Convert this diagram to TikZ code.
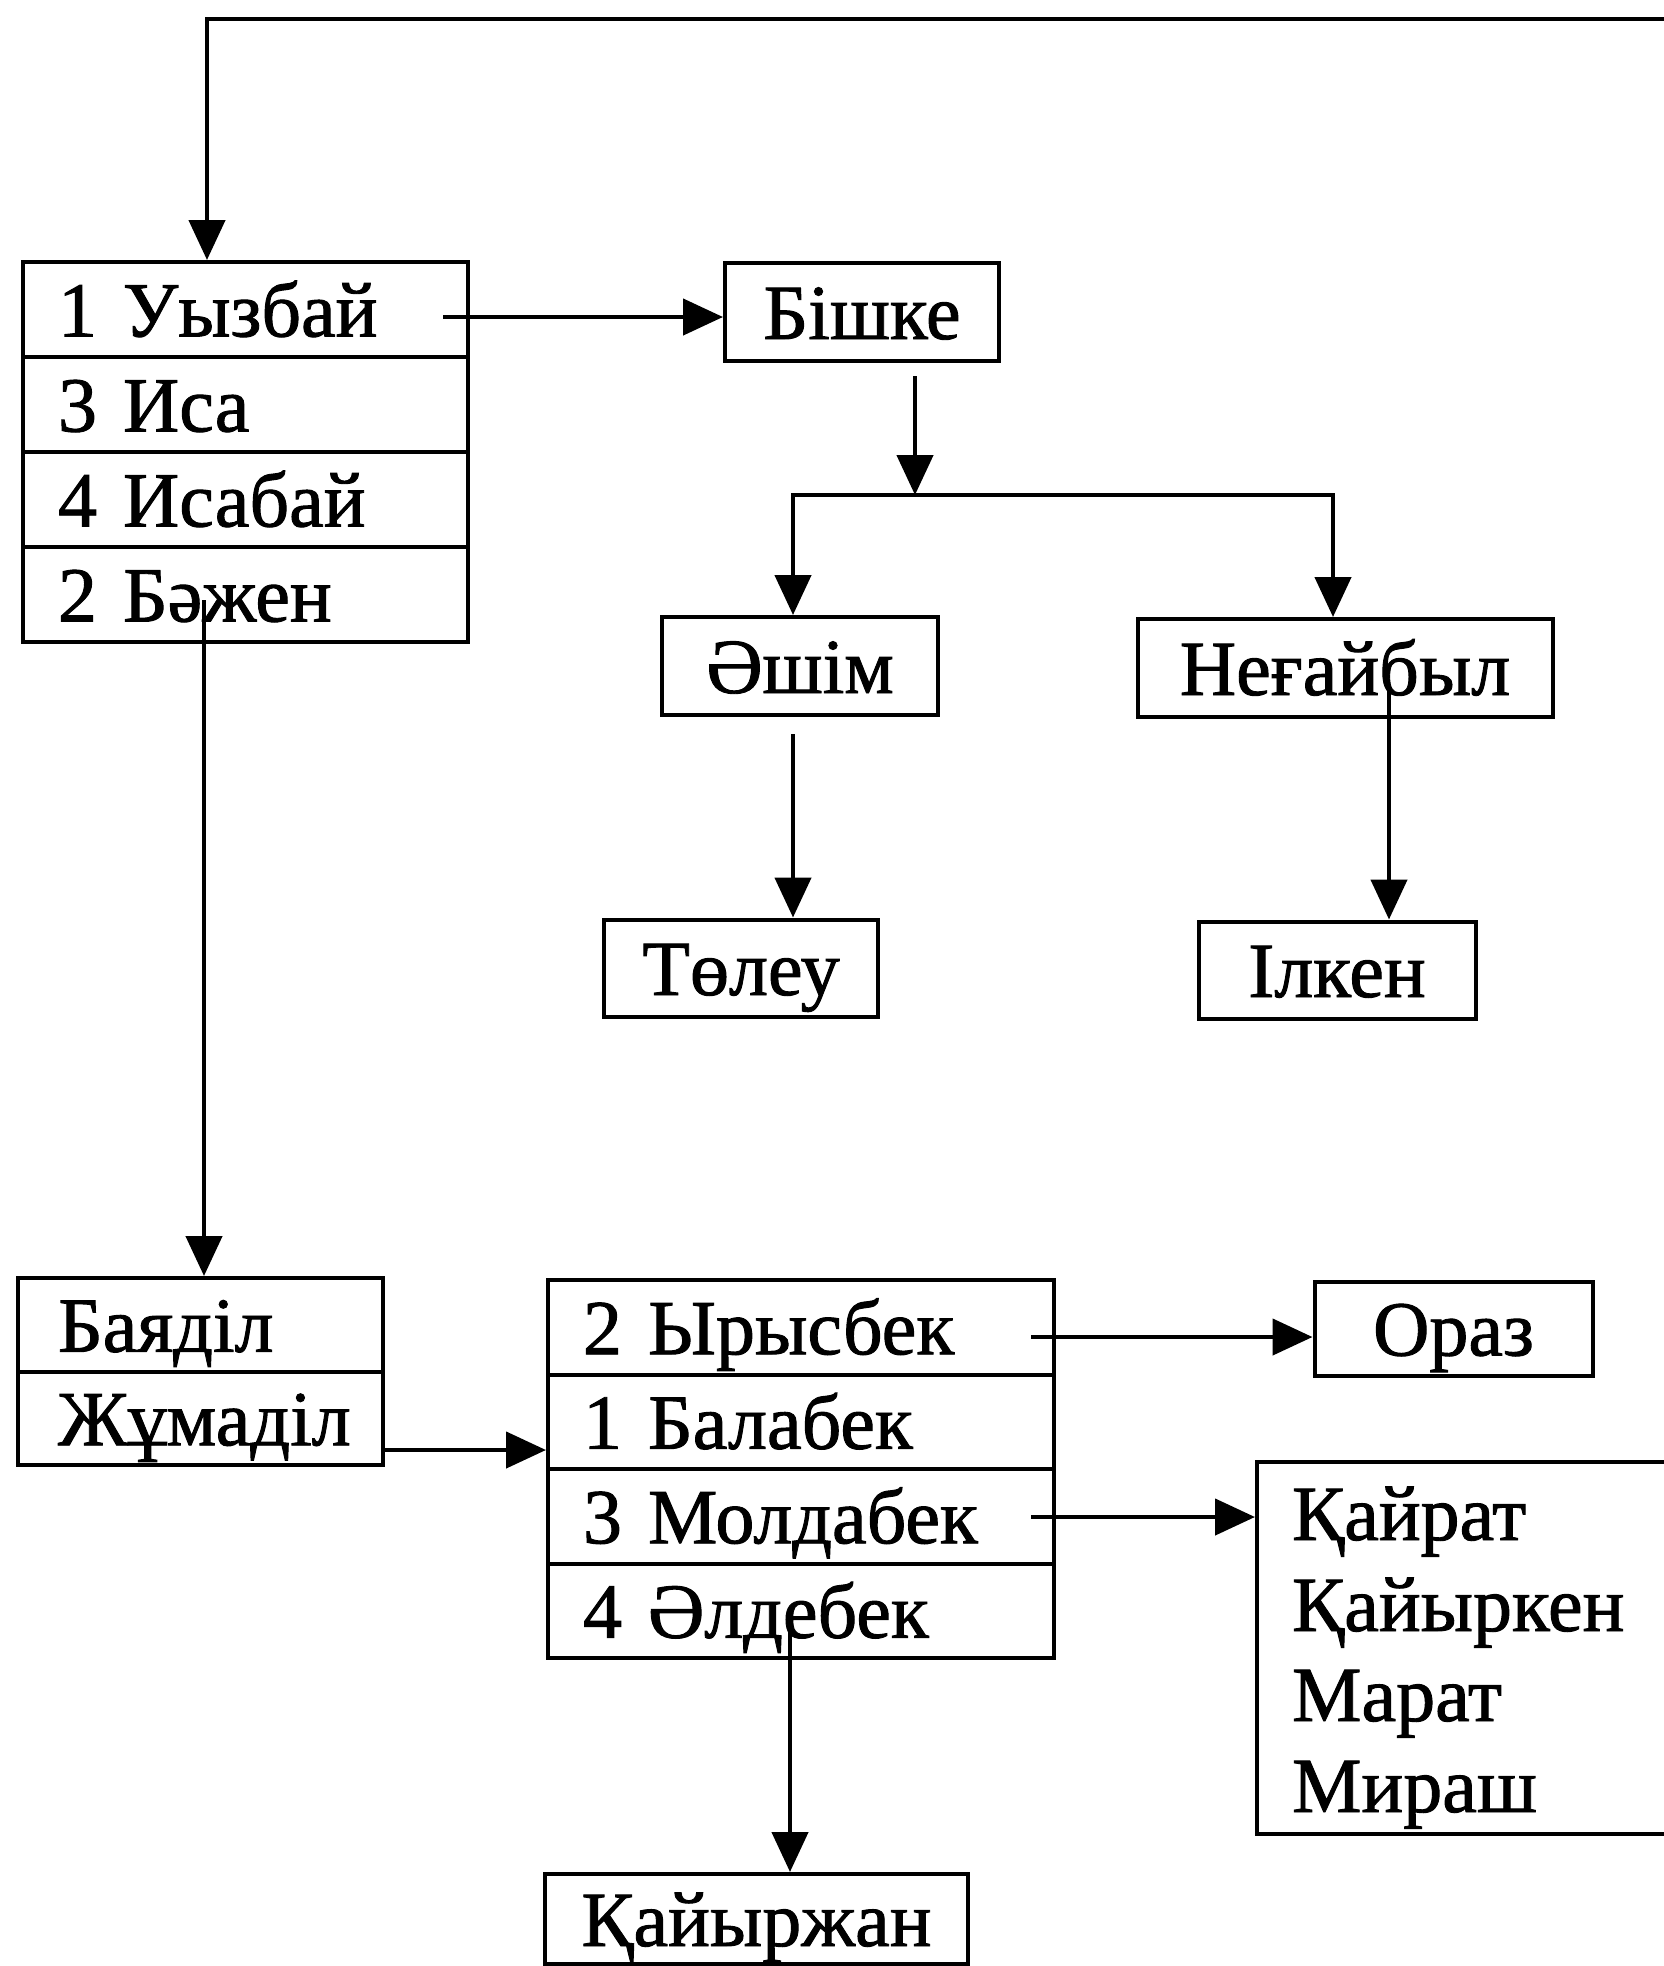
\documentclass[tikz,border=0pt]{standalone}
\usepackage{fontspec}
\setmainfont[FakeBold=1.2,AutoFakeBold=1.2]{Liberation Serif}
\usetikzlibrary{arrows.meta}
\begin{document}
\begin{tikzpicture}[x=1pt,y=-1pt,
  font=\fontsize{78}{90}\selectfont\bfseries,
  conn/.style={line width=4.5pt},
  arr/.style={line width=4.5pt,-{Triangle[length=40pt,width=36pt]}},
  lbox/.style={draw,line width=4pt,anchor=north west,inner ysep=0pt,align=left,text height=54pt,text depth=0pt},
  rowA/.style={lbox,minimum height=95pt,text width=375pt,inner xsep=35pt},
  rowB/.style={lbox,minimum height=93.5pt,text width=285pt,inner xsep=40pt},
  rowC/.style={lbox,minimum height=94.5pt,text width=436pt,inner xsep=35pt},
  sbox/.style={draw,line width=4pt,inner sep=0pt,text height=54pt,text depth=0pt},
  nm/.style={anchor=base west,inner sep=0pt}
]
\useasboundingbox (0,0) rectangle (1664,1966);

% first list
\node[rowA] (u1) at (21,260) {1 Уызбай};
\node[rowA] (u2) at (21,355) {3 Иса};
\node[rowA] (u3) at (21,450) {4 Исабай};
\node[rowA] (u4) at (21,545) {2 Бәжен};

% top connector
\coordinate (tr) at (1664,19);
\coordinate (tl) at (207,19);
\draw[arr] (tr) -- (tl) -- (tl |- u1.north);

% Бішке branch
\node[sbox,minimum width=274pt,minimum height=98pt] (bishke) at (862,312) {Бішке};
\coordinate (a1) at (443,317);
\draw[arr] (a1) -- (a1 -| bishke.west);

\node[sbox,minimum width=276pt,minimum height=98pt] (ashim) at (800,666) {Әшім};
\node[sbox,minimum width=415pt,minimum height=98pt] (negai) at (1345,668) {Неғайбыл};
\coordinate (b0) at (915,376);
\coordinate (bj) at (915,495);
\coordinate (bl) at (793,495);
\coordinate (br) at (1333,495);
\draw[arr] (b0) -- (bj);
\draw[arr] (bj) -- (bl) -- (bl |- ashim.north);
\draw[arr] (bj) -- (br) -- (br |- negai.north);

\node[sbox,minimum width=274pt,minimum height=97pt] (tolew) at (741,968) {Төлеу};
\node[sbox,minimum width=277pt,minimum height=97pt] (ilken) at (1337,970) {Ілкен};
\coordinate (a2) at (793,734);
\draw[arr] (a2) -- (a2 |- tolew.north);
\coordinate (a3) at (1389,687);
\draw[arr] (a3) -- (a3 |- ilken.north);

% Бәжен branch
\node[rowB] (j1) at (16,1276) {Баяділ};
\node[rowB] (j2) at (16,1369.5) {Жұмаділ};
\coordinate (a4) at (204,600);
\draw[arr] (a4) -- (a4 |- j1.north);

\node[rowC] (m1) at (546,1278) {2 Ырысбек};
\node[rowC] (m2) at (546,1372.5) {1 Балабек};
\node[rowC] (m3) at (546,1467) {3 Молдабек};
\node[rowC] (m4) at (546,1561.5) {4 Әлдебек};
\coordinate (a5) at (381,1450);
\draw[arr] (a5) -- (a5 -| m2.west);

\node[sbox,minimum width=278pt,minimum height=94pt] (oraz) at (1453.5,1328.5) {Ораз};
\coordinate (a6) at (1031,1337);
\draw[arr] (a6) -- (a6 -| oraz.west);

\node[draw,line width=4pt,anchor=north west,minimum width=430pt,minimum height=372pt,inner sep=0pt] (kbox) at (1255,1460) {};
\node[nm] (k1) at (1292,1540) {Қайрат};
\node[nm] (k2) at (1292,1631) {Қайыркен};
\node[nm] (k3) at (1292,1721) {Марат};
\node[nm] (k4) at (1292,1812) {Мираш};
\coordinate (a7) at (1031,1517);
\draw[arr] (a7) -- (a7 -| kbox.west);

\node[sbox,minimum width=423pt,minimum height=90pt] (kair) at (756.5,1919) {Қайыржан};
\coordinate (a8) at (790,1630);
\draw[arr] (a8) -- (a8 |- kair.north);
\end{tikzpicture}
\end{document}
